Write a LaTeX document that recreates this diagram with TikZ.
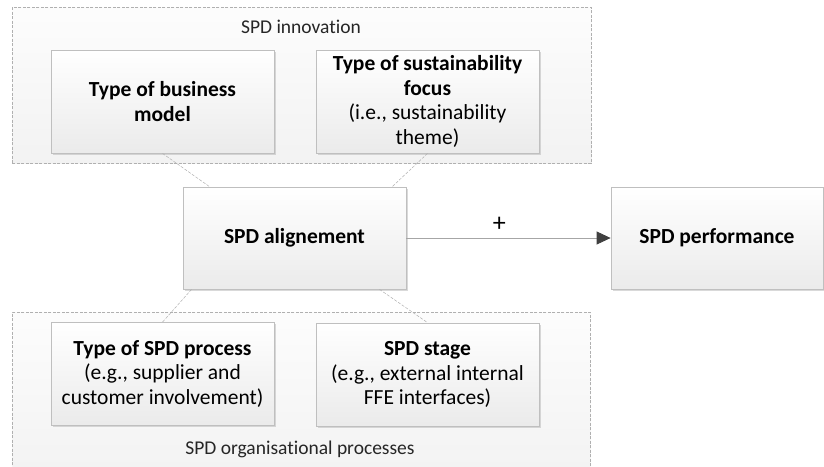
\documentclass[tikz,border=0pt]{standalone}
\usepackage{fontspec}
\setmainfont[Ligatures=NoCommon]{Carlito}
\usetikzlibrary{arrows.meta,shadows,calc}
\definecolor{boxline}{HTML}{BFBFBF}
\definecolor{grpline}{HTML}{B0B0B0}
\definecolor{headcol}{HTML}{404040}
\definecolor{linkcol}{HTML}{A6A6A6}
\tikzset{
  stepbox/.style={draw=boxline, line width=0.8pt, top color=white, bottom color=black!8,
    minimum width=223pt, minimum height=103pt, align=center, inner sep=2pt,
    font=\fontsize{21.5}{24.5}\selectfont,
    drop shadow={shadow xshift=1.5pt, shadow yshift=-1.5pt, fill=black!25, opacity=0.6}},
  grpbox/.style={draw=grpline, dashed, dash pattern=on 3pt off 1.5pt, line width=0.6pt,
    top color=black!1, bottom color=black!5},
  link/.style={draw=grpline, dashed, dash pattern=on 3pt off 1.5pt, line width=0.5pt},
  grplabel/.style={font=\fontsize{19.5}{22}\selectfont, text=black!85}
}
\begin{document}
\begin{tikzpicture}[x=1pt,y=-1pt]
\useasboundingbox (0,0) rectangle (824,466);
\begin{scope}
\clip (0,0) rectangle (824,466);
% groups
\node[grpbox, minimum width=579pt, minimum height=156pt, anchor=north west, inner sep=0pt] (gtop) at (12,7) {};
\node[grpbox, minimum width=578pt, minimum height=170pt, anchor=north west, inner sep=0pt] (gbot) at (12,312) {};
\end{scope}
\node[grplabel] (ltop) at (301,27) {SPD innovation};
\node[grplabel] (lbot) at (300,449) {SPD organisational processes};
% boxes
\node[stepbox] (bm) at (162.5,101.5) {\textbf{Type of business}\\\textbf{model}};
\node[stepbox] (sf) at (427.5,101.5) {\textbf{Type of sustainability}\\\textbf{focus}\\(i.e., sustainability\\theme)};
\node[stepbox, minimum height=102pt] (al) at (294.5,238) {\textbf{SPD alignement}};
\node[stepbox, minimum width=212pt, minimum height=102pt] (pf) at (717,238) {\textbf{SPD performance}};
\node[stepbox] (pr) at (162.5,374) {\textbf{Type of SPD process}\\(e.g., supplier and\\customer involvement)};
\node[stepbox] (st) at (427.5,374.5) {\textbf{SPD stage}\\(e.g., external internal\\FFE interfaces)};
% connector points
\coordinate (a1) at ($(al.north west)!0.12!(al.north east)$);
\coordinate (a2) at ($(al.north west)!0.937!(al.north east)$);
\coordinate (a3) at ($(al.south west)!0.04!(al.south east)$);
\coordinate (a4) at ($(al.south west)!0.88!(al.south east)$);
\draw[link] (bm.south) -- (a1);
\draw[link] (sf.south) -- (a2);
\draw[link] (a3) -- (pr.north);
\draw[link] (a4) -- (st.north);
% arrow
\draw[draw=linkcol, line width=0.8pt, -{Triangle[length=14pt,width=13pt,fill=headcol,color=headcol]}] (al.east) -- node[pos=0.455, above=3pt, font=\fontsize{26}{30}\selectfont] (plus) {+} (pf.west);
\end{tikzpicture}
\end{document}
